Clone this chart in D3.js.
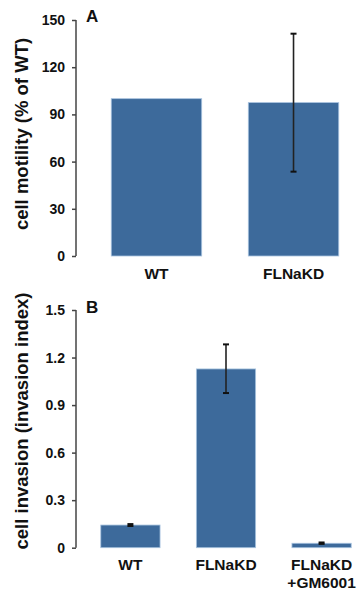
<!DOCTYPE html>
<html>
  <head>
    <meta charset="utf-8">
    <title>Cell motility and invasion</title>
    <script src="https://cdn.jsdelivr.net/npm/d3@7"></script>
    <style>
      body { margin: 0; background: #fff; }
      text { font-family: "Liberation Sans", Arial, sans-serif; font-weight: bold; fill: #111; }
    </style>
  </head>
  <body>
    <script>

// panel A data
var motilityGroups = ["WT", "FLNaKD"];
var motilityValues = [100, 97.5];
var motilityErrLow = [100, 53.6];
var motilityErrHigh = [100, 141.3];
var motilityTicks = [0, 30, 60, 90, 120, 150];

// panel B data
var invasionGroups = ["WT", "FLNaKD", "FLNaKD\n+GM6001"];
var invasionValues = [0.143, 1.128, 0.028];
var invasionErrLow = [0.137, 0.976, 0.024];
var invasionErrHigh = [0.149, 1.283, 0.033];
var invasionTicks = [0, 0.3, 0.6, 0.9, 1.2, 1.5];

var w = 362, h = 594;
var axisX = 76;

var svg = d3.select("body").append("svg")
  .attr("width", w)
  .attr("height", h);

function panel(opts) {
  var y = d3.scaleLinear().domain([0, opts.max]).range([opts.bottom, opts.top]);
  var x = d3.scaleBand().domain(opts.groups)
    .range(opts.xRange)
    .paddingInner(opts.pin)
    .paddingOuter(opts.pout);

  var rows = opts.groups.map(function(g, i) {
    return { name: g, value: opts.values[i], lo: opts.lo[i], hi: opts.hi[i] };
  });
  var cx = function(d) { return x(d.name) + x.bandwidth() / 2; };

  // y axis
  var yAxis = d3.axisLeft(y).tickValues(opts.ticks).tickSize(4).tickPadding(7)
    .tickFormat(opts.fmt);
  var g = svg.append("g").attr("transform", "translate(" + axisX + ",0)").call(yAxis);
  g.select(".domain").attr("stroke", "#444").attr("stroke-width", 1.5)
    .attr("d", "M0," + y(opts.max) + "V" + y(0));
  g.selectAll(".tick line").attr("stroke", "#444").attr("stroke-width", 1.5);
  g.selectAll(".tick text").attr("font-size", 14)
    .attr("font-family", "Liberation Sans, Arial, sans-serif")
    .attr("font-weight", "bold").attr("fill", "#111");

  // bars
  svg.append("g").selectAll("rect")
    .data(rows)
    .enter()
    .append("rect")
    .attr("x", function(d) { return x(d.name); })
    .attr("y", function(d) { return y(d.value); })
    .attr("width", x.bandwidth())
    .attr("height", function(d) { return y(0) - y(d.value); })
    .attr("fill", "#3d6a9b")
    .attr("stroke", "#a8c3df")
    .attr("stroke-width", 0.8);

  // error bars (skip the ones with no spread)
  var eb = svg.append("g").selectAll("g")
    .data(rows.filter(function(d) { return d.hi - d.lo > 0; }))
    .enter()
    .append("g");
  eb.append("line")
    .attr("x1", cx).attr("x2", cx)
    .attr("y1", function(d) { return y(d.lo); })
    .attr("y2", function(d) { return y(d.hi); })
    .attr("stroke", "#222").attr("stroke-width", 1.6);
  ["lo", "hi"].forEach(function(k) {
    eb.append("line")
      .attr("x1", function(d) { return cx(d) - 3; })
      .attr("x2", function(d) { return cx(d) + 3; })
      .attr("y1", function(d) { return y(d[k]); })
      .attr("y2", function(d) { return y(d[k]); })
      .attr("stroke", "#111").attr("stroke-width", 2);
  });

  // category labels
  svg.append("g").selectAll("text")
    .data(opts.groups)
    .enter()
    .append("text")
    .attr("text-anchor", "middle")
    .attr("font-size", 15.5)
    .attr("transform", function(d) {
      return "translate(" + (x(d) + x.bandwidth() / 2) + "," + (opts.bottom + opts.labelGap) + ")";
    })
    .each(function(d) {
      var t = d3.select(this);
      d.split("\n").forEach(function(s, k) {
        t.append("tspan").attr("x", 0).attr("y", k * 17.7).text(s);
      });
    });

  // panel letter
  svg.append("text").attr("x", 86).attr("y", opts.letterY)
    .attr("font-size", 17).text(opts.letter);

  // y title
  svg.append("text")
    .attr("transform", "translate(28," + opts.titleY + ") rotate(-90)")
    .attr("text-anchor", "middle")
    .attr("font-size", 18.5)
    .text(opts.title);
}

panel({
  groups: motilityGroups, values: motilityValues, lo: motilityErrLow, hi: motilityErrHigh,
  ticks: motilityTicks, max: 150, top: 20, bottom: 256,
  xRange: [97, 353], pin: 0.34, pout: 0.104, labelGap: 22.5,
  fmt: d3.format("d"), letter: "A", letterY: 21.5,
  title: "cell motility (% of WT)", titleY: 134
});

panel({
  groups: invasionGroups, values: invasionValues, lo: invasionErrLow, hi: invasionErrHigh,
  ticks: invasionTicks, max: 1.5, top: 310, bottom: 547.7,
  xRange: [96, 356], pin: 0.38, pout: 0.05, labelGap: 22.3,
  fmt: function(d) { return d === 0 ? "0" : d3.format(".1f")(d); },
  letter: "B", letterY: 313,
  title: "cell invasion (invasion index)", titleY: 421
});

    </script>
  </body>
</html>
